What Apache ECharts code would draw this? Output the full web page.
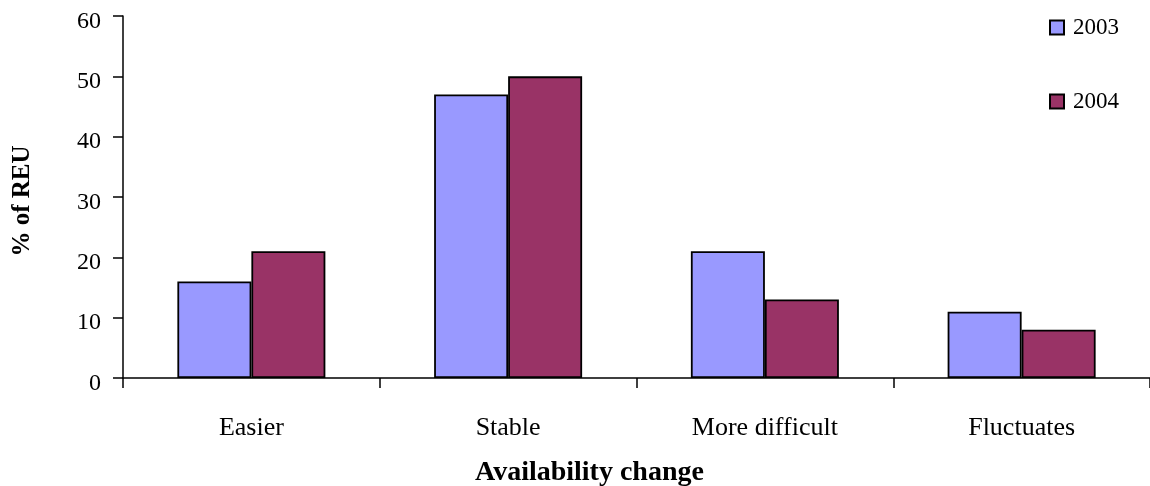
<!DOCTYPE html>
<html><head><meta charset="utf-8">
<script src="https://cdn.jsdelivr.net/npm/echarts@6/dist/echarts.min.js"></script>
<style>html,body{margin:0;padding:0;background:#fff}#c{width:1150px;height:486px}</style>
</head><body><div id="c"></div>
<script>
const categories = ['Easier', 'Stable', 'More difficult', 'Fluctuates'];
const series2003 = [16, 47, 21, 11];
const series2004 = [21, 50, 13, 8];
const seriesNames = ['2003', '2004'];
const FONT = '"Liberation Serif", "DejaVu Serif", serif';
const chart = echarts.init(document.getElementById('c'));
chart.setOption({
  animation: false,
  backgroundColor: '#fff',
  textStyle: { fontFamily: FONT },
  grid: { left: 123, right: 0, top: 16, bottom: 108, containLabel: false },
  legend: {
    orient: 'vertical', left: 1049, top: 16, itemGap: 51, padding: 0,
    itemWidth: 14, itemHeight: 14, icon: 'rect',
    textStyle: { fontFamily: FONT, fontSize: 23, color: '#000', padding: [2,0,0,4] },
    data: seriesNames
  },
  title: [
    { text: 'Availability change', left: 470, top: 454,
      textStyle: { fontFamily: FONT, fontSize: 28, fontWeight: 'bold', color: '#000' } }
  ],
  graphic: [
    { type: 'text', x: 23, y: 201, rotation: Math.PI / 2,
      style: { text: '% of REU', fontFamily: FONT, fontSize: 25, fontWeight: 'bold', fill: '#000',
               align: 'center', verticalAlign: 'middle' } }
  ],
  xAxis: {
    type: 'category', data: categories,
    axisLine: { lineStyle: { color: '#000', width: 1.5 } },
    axisTick: { show: true, length: 10, lineStyle: { color: '#000', width: 1.5 } },
    axisLabel: { fontFamily: FONT, fontSize: 26, color: '#000', margin: 37 }
  },
  yAxis: {
    type: 'value', min: 0, max: 60, interval: 10,
    axisLine: { show: true, lineStyle: { color: '#000', width: 1.5 } },
    axisTick: { show: true, length: 10, lineStyle: { color: '#000', width: 1.5 } },
    axisLabel: { fontFamily: FONT, fontSize: 24, color: '#000', margin: 22,
                 verticalAlign: 'top', lineHeight: 11 },
    splitLine: { show: false }
  },
  series: [
    { name: seriesNames[0], type: 'bar', data: series2003, barWidth: 74, barGap: '0%',
      itemStyle: { color: '#9999FF', borderColor: '#000', borderWidth: 1.8 } },
    { name: seriesNames[1], type: 'bar', data: series2004, barWidth: 74, barGap: '0%',
      itemStyle: { color: '#993366', borderColor: '#000', borderWidth: 1.8 } }
  ]
});
</script></body></html>
